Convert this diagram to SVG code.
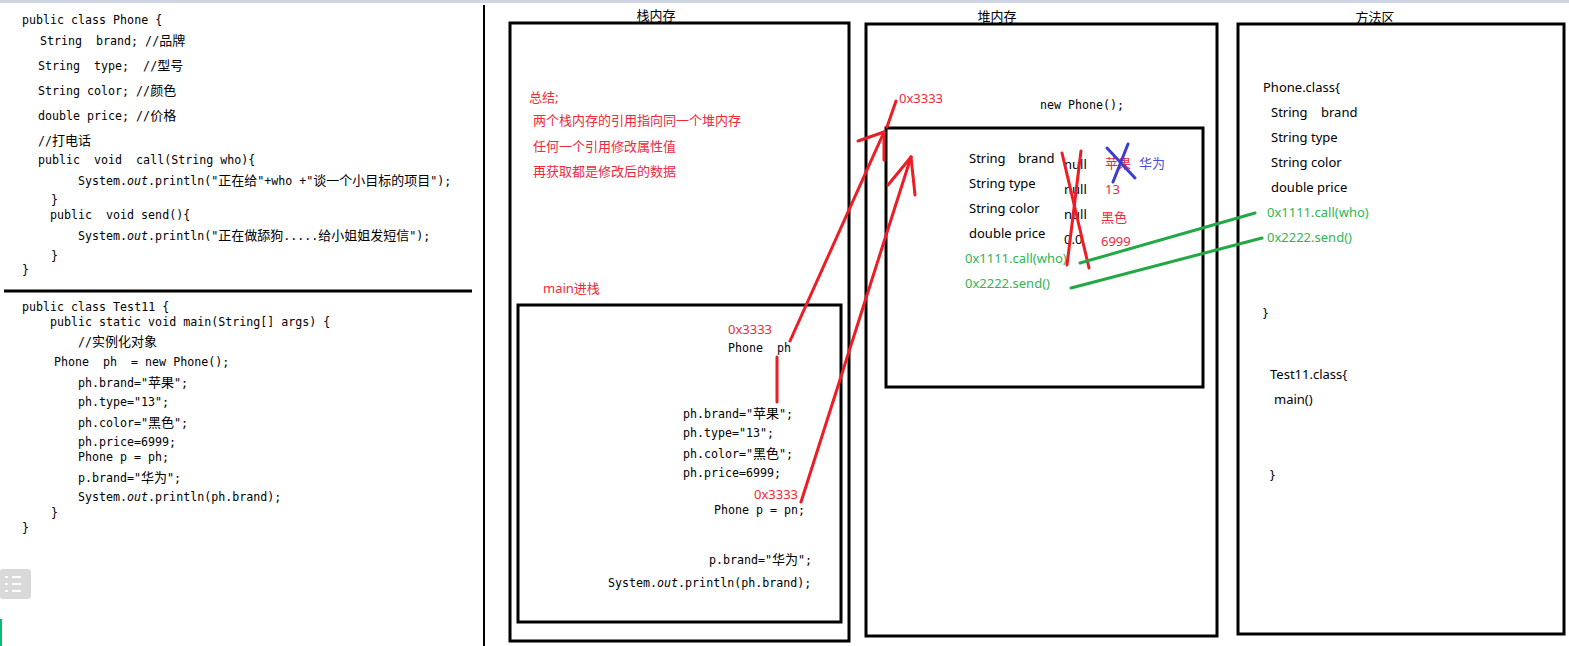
<svg xmlns="http://www.w3.org/2000/svg" width="1569" height="646" viewBox="0 0 1569 646">
<style>
.m{font-family:"DejaVu Sans Mono","Noto Sans CJK SC",monospace;font-size:11.65px;fill:#000;white-space:pre}
.c{font-family:"Noto Sans CJK SC",sans-serif;font-size:13px}
.i{font-style:italic}
.s{font-family:"Noto Sans","Noto Sans CJK SC",sans-serif;font-size:13px;fill:#000;white-space:pre}
.t{font-family:"Noto Sans CJK SC",sans-serif;font-size:13px;fill:#000;text-anchor:middle}
.r{fill:#ee2a3a}
.g{fill:#2fb552}
.b{fill:#4a4ee0}
.box{fill:none;stroke:#000;stroke-width:3}
.rl{stroke:#ee1c24;stroke-width:3;stroke-linecap:round;fill:none}
.gl{stroke:#22a845;stroke-width:3;stroke-linecap:round}
.bl{stroke:#3c3cd0;stroke-width:3;stroke-linecap:round}
</style>
<rect x="0" y="0" width="1569" height="646" fill="#fff"/>
<rect x="0" y="0" width="1569" height="3" fill="#cfd6e4"/>

<g id="code-phone">
<text class="m" x="22" y="24">public class Phone {</text>
<text class="m" x="40" y="45">String  brand; //<tspan class="c">品牌</tspan></text>
<text class="m" x="38" y="70">String  type;  //<tspan class="c">型号</tspan></text>
<text class="m" x="38" y="95">String color; //<tspan class="c">颜色</tspan></text>
<text class="m" x="38" y="120">double price; //<tspan class="c">价格</tspan></text>
<text class="m" x="38" y="145">//<tspan class="c">打电话</tspan></text>
<text class="m" x="38" y="164">public  void  call(String who){</text>
<text class="m" x="78" y="185">System.<tspan class="i">out</tspan>.println("<tspan class="c">正在给</tspan>"+who +"<tspan class="c">谈一个小目标的项目</tspan>");</text>
<text class="m" x="51" y="204">}</text>
<text class="m" x="50" y="219">public  void send(){</text>
<text class="m" x="78" y="240">System.<tspan class="i">out</tspan>.println("<tspan class="c">正在做舔狗</tspan>.....<tspan class="c">给小姐姐发短信</tspan>");</text>
<text class="m" x="51" y="260">}</text>
<text class="m" x="22" y="274">}</text>
</g>
<line x1="4" y1="291" x2="472" y2="291" stroke="#000" stroke-width="3"/>
<g id="code-test11">
<text class="m" x="22" y="311">public class Test11 {</text>
<text class="m" x="50" y="326">public static void main(String[] args) {</text>
<text class="m" x="78" y="346">//<tspan class="c">实例化对象</tspan></text>
<text class="m" x="54" y="366">Phone  ph  = new Phone();</text>
<text class="m" x="78" y="387">ph.brand="<tspan class="c">苹果</tspan>";</text>
<text class="m" x="78" y="406">ph.type="13";</text>
<text class="m" x="78" y="427">ph.color="<tspan class="c">黑色</tspan>";</text>
<text class="m" x="78" y="446">ph.price=6999;</text>
<text class="m" x="78" y="461">Phone p = ph;</text>
<text class="m" x="78" y="482">p.brand="<tspan class="c">华为</tspan>";</text>
<text class="m" x="78" y="501">System.<tspan class="i">out</tspan>.println(ph.brand);</text>
<text class="m" x="51" y="517">}</text>
<text class="m" x="22" y="532">}</text>
</g>
<g id="menu-icon">
<rect x="0" y="569" width="31" height="30" rx="3" fill="#d9d9d9"/>
<g stroke="#fff" stroke-width="2">
<line x1="5" y1="577" x2="8" y2="577"/><line x1="12" y1="577" x2="21" y2="577"/>
<line x1="5" y1="584" x2="8" y2="584"/><line x1="12" y1="584" x2="21" y2="584"/>
<line x1="5" y1="591" x2="8" y2="591"/><line x1="12" y1="591" x2="21" y2="591"/>
</g>
</g>
<rect x="0" y="619" width="2" height="27" fill="#00c070"/>
<line x1="484" y1="5" x2="484" y2="646" stroke="#000" stroke-width="2"/>

<g id="stack">
<text class="t" x="656" y="20">栈内存</text>
<rect class="box" x="510" y="23" width="339" height="618"/>
<text class="s r" x="529" y="102">总结;</text>
<text class="s r" x="533" y="125">两个栈内存的引用指向同一个堆内存</text>
<text class="s r" x="533" y="151">任何一个引用修改属性值</text>
<text class="s r" x="533" y="176">再获取都是修改后的数据</text>
<text class="s r" x="543" y="293">main进栈</text>
</g>
<g id="main-frame">
<rect class="box" x="518" y="305" width="323" height="317"/>
<text class="s r" x="728" y="334">0x3333</text>
<text class="m" x="728" y="352">Phone  ph</text>
<text class="m" x="683" y="418">ph.brand="<tspan class="c">苹果</tspan>";</text>
<text class="m" x="683" y="437">ph.type="13";</text>
<text class="m" x="683" y="458">ph.color="<tspan class="c">黑色</tspan>";</text>
<text class="m" x="683" y="477">ph.price=6999;</text>
<text class="s r" x="754" y="499">0x3333</text>
<text class="m" x="714" y="514">Phone p = pn;</text>
<text class="m" x="709" y="564">p.brand="<tspan class="c">华为</tspan>";</text>
<text class="m" x="608" y="587">System.<tspan class="i">out</tspan>.println(ph.brand);</text>
</g>

<g id="heap">
<text class="t" x="997" y="21">堆内存</text>
<rect class="box" x="866" y="24" width="351" height="612"/>
<text class="s r" x="899" y="103">0x3333</text>
<text class="m" x="1040" y="109">new Phone();</text>
</g>
<g id="phone-object">
<rect class="box" x="886" y="128" width="317" height="259"/>
<text class="s" x="969" y="163">String</text><text class="s" x="1018" y="163">brand</text>
<text class="s" x="969" y="188">String type</text>
<text class="s" x="969" y="213">String color</text>
<text class="s" x="969" y="238">double price</text>
<text class="s g" x="965" y="263">0x1111.call(who)</text>
<text class="s g" x="965" y="288">0x2222.send()</text>
<text class="s" x="1064" y="169">null</text>
<text class="s" x="1064" y="194">null</text>
<text class="s" x="1064" y="219">null</text>
<text class="s" x="1064" y="244">0.0</text>
<text class="s r" x="1105" y="168">苹果</text>
<text class="s b" x="1139" y="168">华为</text>
<text class="s r" x="1105" y="194">13</text>
<text class="s r" x="1101" y="222">黑色</text>
<text class="s r" x="1101" y="246">6999</text>
</g>

<g id="method-area">
<text class="t" x="1375" y="22">方法区</text>
<rect class="box" x="1238" y="24" width="326" height="610"/>
<text class="s" x="1263" y="92">Phone.class{</text>
<text class="s" x="1271" y="117">String</text><text class="s" x="1321" y="117">brand</text>
<text class="s" x="1271" y="142">String type</text>
<text class="s" x="1271" y="167">String color</text>
<text class="s" x="1271" y="192">double price</text>
<text class="s g" x="1267" y="217">0x1111.call(who)</text>
<text class="s g" x="1267" y="242">0x2222.send()</text>
<text class="s" x="1263" y="317">}</text>
<text class="s" x="1270" y="379">Test11.class{</text>
<text class="s" x="1274" y="404">main()</text>
<text class="s" x="1270" y="479">}</text>
</g>

<g id="connectors">
<line class="rl" x1="790" y1="341" x2="884" y2="132"/>
<line class="rl" x1="858" y1="141" x2="884" y2="132"/>
<line class="rl" x1="884" y1="132" x2="884" y2="160"/>
<line class="rl" x1="887" y1="127" x2="896" y2="101"/>
<line class="rl" x1="801" y1="502" x2="911" y2="157"/>
<line class="rl" x1="888" y1="185" x2="911" y2="157"/>
<line class="rl" x1="911" y1="157" x2="915" y2="195"/>
<line class="rl" x1="777" y1="357" x2="777" y2="402"/>
<line class="rl" x1="1062" y1="153" x2="1089" y2="268"/>
<line class="rl" x1="1081" y1="151" x2="1067" y2="265"/>
<line class="bl" x1="1107" y1="148" x2="1135" y2="178"/>
<line class="bl" x1="1128" y1="144" x2="1113" y2="182"/>
<line class="gl" x1="1080" y1="263" x2="1255" y2="213"/>
<line class="gl" x1="1071" y1="288" x2="1262" y2="238"/>
</g>
</svg>
